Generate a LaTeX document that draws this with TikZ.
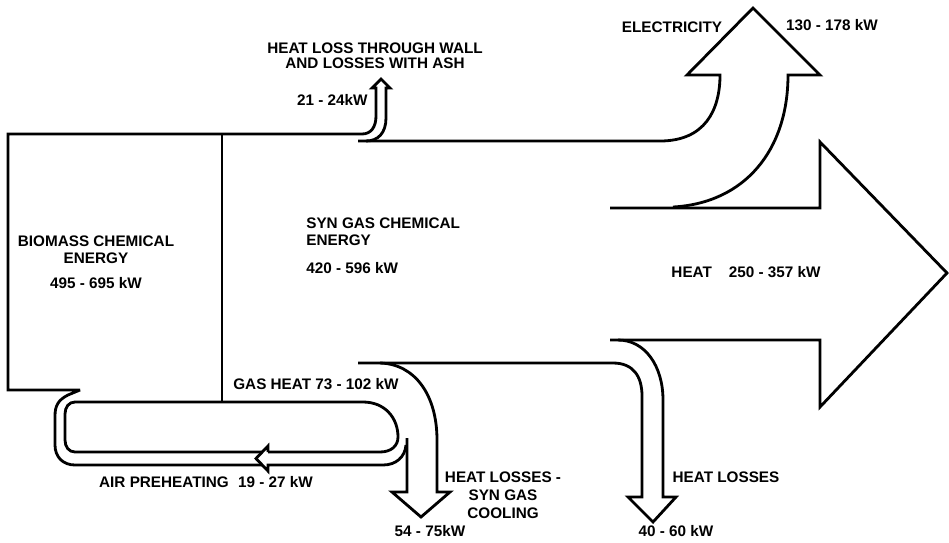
\documentclass[tikz,border=0pt]{standalone}
\usepackage{fontspec}
\setmainfont{Liberation Sans}
\usetikzlibrary{positioning}
\begin{document}
\begin{tikzpicture}[
    x=0.02cm, y=-0.02cm,
    flow/.style={line width=1.6pt, miter limit=4},
    lbl/.style={font=\fontsize{8.7}{9.8}\selectfont\bfseries, inner sep=0pt, align=center},
    lblleft/.style={lbl, align=left}
]
\useasboundingbox (0,0) rectangle (949,542);

\draw[flow] (222,134) -- (222,402);
\draw[flow] (262,465) -- (75,465) .. controls (63,465) and (55,457) .. (55,445) -- (55,416) .. controls (55,406) and (58,400) .. (68,395) -- (80,390) -- (8,390) -- (8,134) -- (362,134) .. controls (371,134) and (376,127) .. (376,116) -- (376,88) -- (372,88) -- (381,79) -- (390,88) -- (386,88) -- (386,118) .. controls (386,133) and (378,141) .. (366,141);
\draw[flow] (358,141) -- (660,141) .. controls (705,141) and (720,110) .. (720,75) -- (687,75) -- (753,8) -- (820,75) -- (788,75) .. controls (788,150) and (745,203) .. (673,207);
\draw[flow] (610,208) -- (820,208) -- (820,142) -- (947,273) -- (820,407) -- (820,340) -- (610,340);

\draw[flow] (268,452) -- (380,452) .. controls (391,452) and (398,446) .. (398,437) .. controls (398,418) and (385,402) .. (363,402) -- (75,402) .. controls (69,402) and (65,407) .. (65,414) -- (65,440) .. controls (65,447) and (69,452) .. (75,452) -- (262,452);
\draw[flow] (268,452) -- (268,446) -- (256,458.5) -- (268,471) -- (268,465) -- (383,465) .. controls (396,465) and (405,457) .. (406,445);
\draw[flow] (407,438) -- (407,492) -- (392,492) -- (421,517) -- (450,492) -- (437,492) -- (437,440) .. controls (437,395) and (415,364) .. (380,363);
\draw[flow] (358,363) -- (613,363) .. controls (633,363) and (642,376) .. (642,396) -- (642,497) -- (628,497) -- (653,522) -- (676,497) -- (663,497) -- (663,400) .. controls (663,366) and (645,340) .. (618,340);

\node[lbl, font=\fontsize{8.7}{8.6}\selectfont\bfseries] (wall) at (375,56) {HEAT LOSS THROUGH WALL\\AND LOSSES WITH ASH};
\node[lbl, anchor=east] (wallkw) at (368,100) {21 - 24kW};
\node[lbl] (elec) at (672,27) {ELECTRICITY};
\node[lbl] (eleckw) at (832,25) {130 - 178 kW};
\node[lblleft, anchor=west] (syngas) at (306,232) {SYN GAS CHEMICAL\\ENERGY};
\node[lbl, anchor=west] (syngaskw) at (306,268) {420 - 596 kW};
\node[lbl] (biomass) at (96,250) {BIOMASS CHEMICAL\\ENERGY};
\node[lbl] (biomasskw) at (96,283) {495 - 695 kW};
\node[lbl] (heat) at (746,272) {HEAT\hspace{1.1em}250 - 357 kW};
\node[lbl] (gasheat) at (316,384) {GAS HEAT 73 - 102 kW};
\node[lbl] (air) at (206,482) {AIR PREHEATING\hspace{0.6em}19 - 27 kW};
\node[lbl, font=\fontsize{8.7}{10.3}\selectfont\bfseries] (cooling) at (503,495) {HEAT LOSSES -\\SYN GAS\\COOLING};
\node[lbl] (coolingkw) at (430,531) {54 - 75kW};
\node[lbl] (losses) at (726,477) {HEAT LOSSES};
\node[lbl] (losseskw) at (676,531) {40 - 60 kW};
\end{tikzpicture}
\end{document}
